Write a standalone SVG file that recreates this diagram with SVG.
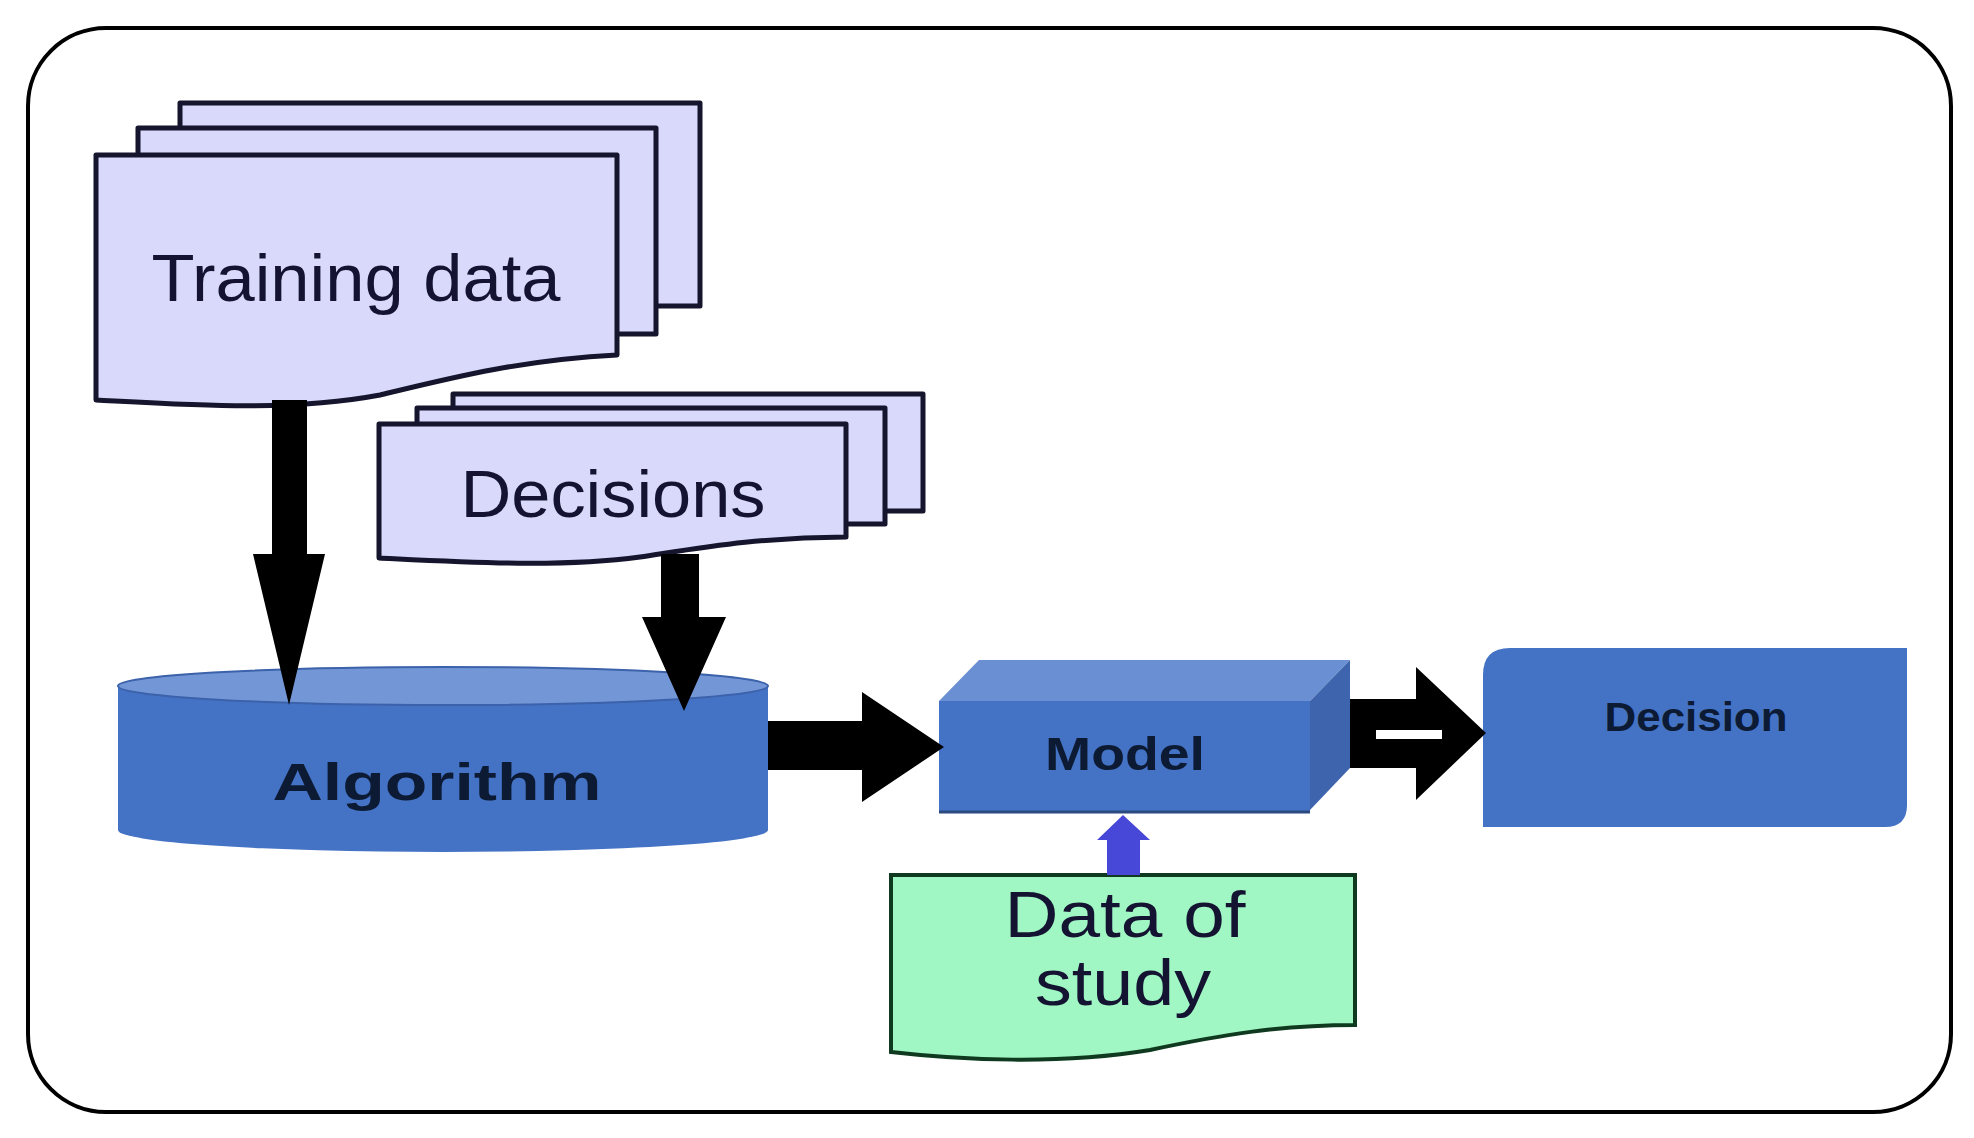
<svg xmlns="http://www.w3.org/2000/svg" width="1974" height="1138" viewBox="0 0 1974 1138">
<style>
.doc{fill:#d9d9fb;stroke:#15152e;stroke-width:5;stroke-linejoin:round}
.lbl{font-family:"Liberation Sans",Arial,sans-serif;fill:#141432;text-anchor:middle}
.bold{font-family:"Liberation Sans",Arial,sans-serif;font-weight:bold;fill:#0c1a33;text-anchor:middle}
.blue{fill:#4472c4}
</style>
<rect width="1974" height="1138" fill="#fff"/>
<rect x="28" y="28" width="1923" height="1084" rx="78" fill="none" stroke="#000" stroke-width="4"/>
<g id="training">
<rect class="doc" x="180" y="103" width="520" height="203"/>
<rect class="doc" x="138" y="128" width="518" height="206"/>
<path class="doc" d="M96 155 H617 V355 C520 360 450 378 380 395 C290 412 190 405 96 400 Z"/>
<text class="lbl" x="356" y="301" font-size="66" textLength="409" lengthAdjust="spacingAndGlyphs">Training data</text>
</g>
<g id="decisions">
<rect class="doc" x="453" y="394" width="470" height="117"/>
<rect class="doc" x="417" y="408" width="468" height="116"/>
<path class="doc" d="M379 424 H846 V537 C760 537 700 548 640 557 C560 568 460 562 379 558 Z"/>
<text class="lbl" x="613" y="517" font-size="66" textLength="305" lengthAdjust="spacingAndGlyphs">Decisions</text>
</g>
<g id="algorithm">
<path class="blue" d="M118 686 V830 A325 22 0 0 0 768 830 V686 Z"/>
<ellipse cx="443" cy="686" rx="325" ry="19" fill="#7397d6" stroke="#3b62aa" stroke-width="2"/>
<text class="bold" x="437" y="800" font-size="52" textLength="329" lengthAdjust="spacingAndGlyphs">Algorithm</text>
</g>
<g id="model">
<polygon points="939,701 979,660 1350,660 1310,701" fill="#6a8fd2"/>
<polygon points="1310,701 1350,660 1350,768 1310,810" fill="#3d64ad"/>
<rect class="blue" x="939" y="701" width="371" height="111"/>
<line x1="939" y1="812" x2="1310" y2="812" stroke="#2b4a80" stroke-width="3"/>
<text class="bold" x="1125" y="770" font-size="46" textLength="160" lengthAdjust="spacingAndGlyphs">Model</text>
</g>
<g id="decision">
<path class="blue" d="M1510 648 H1907 V805 Q1907 827 1885 827 H1483 V675 Q1483 648 1510 648 Z"/>
<text class="bold" x="1696" y="731" font-size="40" textLength="183" lengthAdjust="spacingAndGlyphs">Decision</text>
</g>
<g id="data">
<path d="M891 875 H1355 V1025 C1280 1025 1220 1035 1150 1050 C1060 1065 960 1060 891 1052 Z" fill="#a0f7c4" stroke="#0f3a1f" stroke-width="4"/>
<text class="lbl" x="1125" y="937" font-size="64" fill="#0f2a18" textLength="241" lengthAdjust="spacingAndGlyphs">Data of</text>
<text class="lbl" x="1123" y="1005" font-size="64" fill="#0f2a18" textLength="176" lengthAdjust="spacingAndGlyphs">study</text>
</g>
<g id="connectors">
<polygon points="272,400 307,400 307,554 325,554 289,705 253,554 272,554" fill="#000"/>
<polygon points="661,554 699,554 699,617 726,617 684,711 642,617 661,617" fill="#000"/>
<polygon points="768,721 862,721 862,692 944,747 862,802 862,770 768,770" fill="#000"/>
<polygon points="1350,699 1416,699 1416,667 1486,733 1416,800 1416,768 1350,768" fill="#000"/>
<rect x="1376" y="730" width="66" height="9" fill="#fff"/>
<polygon points="1107,875 1140,875 1140,840 1150,840 1123,815 1097,840 1107,840" fill="#4848d8"/>
</g>
</svg>
